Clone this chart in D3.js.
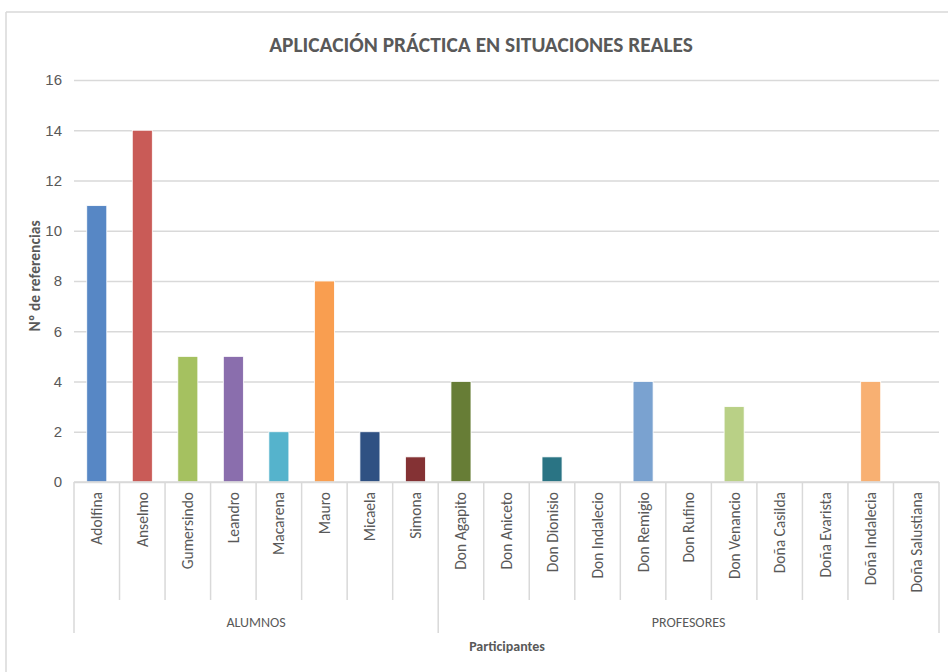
<!DOCTYPE html>
<html>
<head>
<meta charset="utf-8">
<script src="https://cdn.jsdelivr.net/npm/d3@7"></script>
<style>
  body { margin: 0; background: #fff; }
  svg { display: block; font-family: Carlito, Calibri, Lato, "Open Sans", sans-serif; }
</style>
</head>
<body>
<svg id="chart" width="948" height="672"></svg>
<script>
const participants = ['Adolfina', 'Anselmo', 'Gumersindo', 'Leandro', 'Macarena', 'Mauro', 'Micaela', 'Simona',
  'Don Agapito', 'Don Aniceto', 'Don Dionisio', 'Don Indalecio', 'Don Remigio', 'Don Rufino', 'Don Venancio',
  'Doña Casilda', 'Doña Evarista', 'Doña Indalecia', 'Doña Salustiana'];
const referencias = [11, 14, 5, 5, 2, 8, 2, 1, 4, 0, 1, 0, 4, 0, 3, 0, 0, 4, 0];
const groupNames = ['ALUMNOS', 'PROFESORES'];
const groupSizes = [8, 11];
const yTicks = [0, 2, 4, 6, 8, 10, 12, 14, 16];
const barColors = ['#5787c5', '#c95b57', '#a5c160', '#8a6ead', '#55b3cc', '#f99e50', '#2f5183', '#843234',
  '#677d36', '#29758a', '#2a7484', '#b8611c', '#7aa2d0', '#cf7371', '#b9d086', '#9d86b8', '#74c0d4', '#f8b072', '#5787c5'];

const svg = d3.select('#chart');
const margin = { left: 74, right: 939, top: 80, bottom: 482 };
const gray = '#595959';
const gridColor = '#d9d9d9';

// chart frame (only top/left visible in the picture)
svg.append('line').attr('x1', 6).attr('x2', 948).attr('y1', 12).attr('y2', 12)
  .attr('stroke', gridColor).attr('stroke-width', 1.5);
svg.append('line').attr('x1', 6).attr('x2', 6).attr('y1', 12).attr('y2', 672)
  .attr('stroke', gridColor).attr('stroke-width', 1.5);

const x = d3.scaleBand().domain(participants).range([margin.left, margin.right]).paddingInner(0.56).paddingOuter(0.28);
const y = d3.scaleLinear().domain([0, 16]).range([margin.bottom, margin.top]);

// gridlines + y labels
const yAxis = d3.axisLeft(y).tickValues(yTicks).tickSize(-(margin.right - margin.left)).tickPadding(12);
const gy = svg.append('g').attr('transform', `translate(${margin.left},0)`).call(yAxis);
gy.select('.domain').remove();
gy.selectAll('.tick line').attr('stroke', gridColor).attr('stroke-width', 1.5);
gy.selectAll('.tick text').attr('fill', gray).attr('font-size', 15).attr('font-family', null);

// bars
svg.append('g').selectAll('rect')
  .data(participants)
  .enter()
  .append('rect')
  .attr('x', d => x(d))
  .attr('y', (d, i) => y(referencias[i]))
  .attr('width', x.bandwidth())
  .attr('height', (d, i) => y(0) - y(referencias[i]))
  .attr('fill', (d, i) => barColors[i])
  .attr('stroke', '#fff')
  .attr('stroke-width', 0.8);

// category axis
const step = x.step();
const g = svg.append('g');
g.append('line').attr('x1', margin.left).attr('x2', margin.right).attr('y1', y(0)).attr('y2', y(0))
  .attr('stroke', gridColor).attr('stroke-width', 1.5);

let start = 0;
const boundaries = [0];
groupSizes.forEach(n => { start += n; boundaries.push(start); });

participants.forEach((p, i) => {
  if (i > 0 && !boundaries.includes(i)) {
    const xx = margin.left + i * step;
    g.append('line').attr('x1', xx).attr('x2', xx).attr('y1', y(0)).attr('y2', 600)
      .attr('stroke', gridColor).attr('stroke-width', 1.5);
  }
});
boundaries.forEach(b => {
  const xx = margin.left + b * step;
  g.append('line').attr('x1', xx).attr('x2', xx).attr('y1', y(0)).attr('y2', 633)
    .attr('stroke', gridColor).attr('stroke-width', 1.5);
});

g.selectAll('.cat')
  .data(participants)
  .enter()
  .append('text')
  .attr('class', 'cat')
  .attr('transform', d => `translate(${x(d) + x.bandwidth() / 2 + 5.5},492) rotate(-90)`)
  .attr('text-anchor', 'end')
  .attr('fill', gray)
  .attr('font-size', 15.5)
  .text(d => d);

groupNames.forEach((name, gi) => {
  const cx = margin.left + (boundaries[gi] + boundaries[gi + 1]) / 2 * step;
  g.append('text').attr('x', cx).attr('y', 627).attr('text-anchor', 'middle')
    .attr('fill', gray).attr('font-size', 14).text(name);
});

// titles
svg.append('text').attr('x', 481).attr('y', 52).attr('text-anchor', 'middle')
  .attr('fill', gray).attr('font-size', 21.4).attr('font-weight', 'bold')
  .text('APLICACIÓN PRÁCTICA EN SITUACIONES REALES');

svg.append('text').attr('x', 507).attr('y', 651).attr('text-anchor', 'middle')
  .attr('fill', gray).attr('font-size', 14).attr('font-weight', 'bold')
  .text('Participantes');

svg.append('text').attr('transform', 'translate(40,276) rotate(-90)').attr('text-anchor', 'middle')
  .attr('fill', gray).attr('font-size', 15.5).attr('font-weight', 'bold')
  .text('Nº de referencias');
</script>
</body>
</html>
